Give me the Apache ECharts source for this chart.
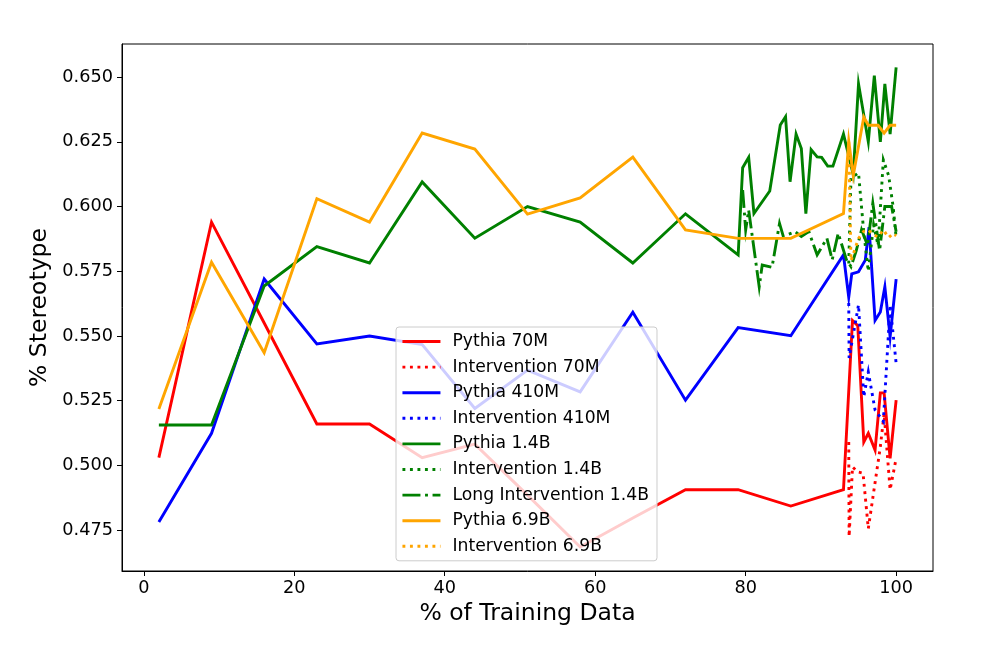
<!DOCTYPE html>
<html><head><meta charset="utf-8">
<script src="https://cdn.jsdelivr.net/npm/echarts@6/dist/echarts.min.js"></script>
<style>html,body{margin:0;padding:0;background:#fff}#c{width:984px;height:665px}</style>
</head><body><div id="c"></div>
<script>
const xTicks = [0, 20, 40, 60, 80, 100];
const yTicks = [0.475, 0.5, 0.525, 0.55, 0.575, 0.6, 0.625, 0.65];

const p70mX = [2,9,16,23,30,37,44,51,58,65,72,79,86,93,94.2,94.9,95.7,96.3,97.2,97.9,98.4,99.2,100];
const p70mY = [0.503,0.594,0.555,0.516,0.516,0.503,0.5082,0.4885,0.4685,0.4797,0.4906,0.4906,0.4843,0.4906,0.556,0.554,0.509,0.5124,0.5059,0.528,0.528,0.5027,0.5252];

const i70mX = [93.7,93.75,94.2,94.9,95.6,96.3,97.9,98.4,99.2,100];
const i70mY = [0.509,0.4725,0.4994,0.4975,0.497,0.4756,0.5072,0.520,0.4906,0.5027];

const p410mX = [2,9,16,23,30,37,44,51,58,65,72,79,86,93,93.7,94.1,95.0,95.9,96.4,97.2,97.9,98.5,99.2,100];
const p410mY = [0.4781,0.5124,0.572,0.5469,0.550,0.5467,0.522,0.5368,0.5284,0.5592,0.5252,0.5532,0.5501,0.5813,0.565,0.574,0.5748,0.5793,0.592,0.556,0.5593,0.569,0.5497,0.572];

const i410mX = [93.7,93.75,95.0,95.7,96.3,97.2,98.3,99.2,100];
const i410mY = [0.5627,0.5415,0.562,0.5265,0.5361,0.5214,0.517,0.562,0.5394];

const p14bX = [2,9,16,23,30,37,44,51,58,65,72,79,79.6,80.4,81.1,83.2,84.6,85.3,85.9,86.7,87.4,88.0,88.7,89.5,90.1,90.9,91.6,93.0,94.3,95.0,96.3,97.1,97.9,98.5,99.2,100];
const p14bY = [0.5156,0.5156,0.5693,0.5845,0.5782,0.6095,0.5878,0.600,0.594,0.5782,0.5972,0.5813,0.615,0.619,0.5973,0.606,0.6315,0.6347,0.6096,0.628,0.6224,0.5973,0.622,0.6192,0.619,0.6156,0.6156,0.628,0.6123,0.6474,0.625,0.6506,0.625,0.6474,0.628,0.6538];

const i14bX = [93.7,94.0,95.0,95.7,96.3,97.0,97.6,98.3,99.0,99.6,100];
const i14bY = [0.578,0.611,0.613,0.590,0.575,0.593,0.585,0.618,0.612,0.600,0.588];

const l14bX = [79.6,80.0,80.4,81.8,82.2,83.5,84.5,85.0,86.6,87.4,88.4,89.5,90.8,91.5,92.3,93.4,94.0,94.7,95.4,96.2,96.9,97.8,98.5,99.4,100];
const l14bY = [0.6064,0.591,0.5986,0.569,0.5774,0.5765,0.5935,0.5885,0.5903,0.5884,0.5903,0.5813,0.5877,0.5794,0.5897,0.5794,0.5768,0.583,0.591,0.585,0.6013,0.583,0.600,0.600,0.5903];

const p69bX = [2,9,16,23,30,37,44,51,58,65,72,79,86,93,93.7,94.3,95.7,96.3,97.6,98.4,99.2,100];
const p69bY = [0.5218,0.5785,0.5435,0.6030,0.594,0.6284,0.6222,0.5971,0.6033,0.6191,0.591,0.5877,0.5877,0.5973,0.6253,0.612,0.6346,0.6314,0.6314,0.6284,0.6314,0.6314];

const i69bX = [93.7,94.0,95.0,95.7,96.3,97.0,97.6,98.3,99.0,99.6,100];
const i69bY = [0.625,0.579,0.5877,0.5905,0.591,0.589,0.5883,0.591,0.588,0.5896,0.5887];

const FONT = 'DejaVu Sans';
const LW = 2.9;
const DOT = [2.9, 4.6];
const DASHDOT = [18, 4.6, 2.9, 4.6];

function zip(xs, ys) { return xs.map((x, i) => [x, ys[i]]); }
function mk(name, xs, ys, color, type) {
  return {
    name, type: 'line', data: zip(xs, ys), symbol: 'none', clip: true,
    lineStyle: { color, width: LW, type, cap: 'butt', join: 'miter' },
    itemStyle: { color },
    emphasis: { disabled: true }
  };
}

const series = [
  mk('Pythia 70M', p70mX, p70mY, '#ff0000', 'solid'),
  mk('Intervention 70M', i70mX, i70mY, '#ff0000', DOT),
  mk('Pythia 410M', p410mX, p410mY, '#0000ff', 'solid'),
  mk('Intervention 410M', i410mX, i410mY, '#0000ff', DOT),
  mk('Pythia 1.4B', p14bX, p14bY, '#008000', 'solid'),
  mk('Intervention 1.4B', i14bX, i14bY, '#008000', DOT),
  mk('Long Intervention 1.4B', l14bX, l14bY, '#008000', DASHDOT),
  mk('Pythia 6.9B', p69bX, p69bY, '#ffa500', 'solid'),
  mk('Intervention 6.9B', i69bX, i69bY, '#ffa500', DOT)
];

const chart = echarts.init(document.getElementById('c'), null, { renderer: 'canvas' });
chart.setOption({
  animation: false,
  backgroundColor: '#ffffff',
  textStyle: { fontFamily: FONT },
  grid: { left: 122, right: 51, top: 44, bottom: 94, show: true, borderColor: '#000', borderWidth: 1, backgroundColor: 'transparent' },
  xAxis: {
    type: 'value', min: -2.9, max: 104.9,
    axisLine: { show: true, onZero: false, lineStyle: { color: '#000', width: 1 } },
    axisTick: { show: true, customValues: xTicks, length: 5, lineStyle: { color: '#000', width: 1 } },
    axisLabel: { customValues: xTicks, fontSize: 17.7, color: '#000', margin: 8, fontFamily: FONT },
    splitLine: { show: false },
    name: '% of Training Data', nameLocation: 'middle', nameGap: 26,
    nameTextStyle: { fontSize: 23.5, color: '#000', fontFamily: FONT }
  },
  yAxis: {
    type: 'value', min: 0.4592, max: 0.6628,
    axisLine: { show: true, onZero: false, lineStyle: { color: '#000', width: 1 } },
    axisTick: { show: true, customValues: yTicks, length: 5, lineStyle: { color: '#000', width: 1 } },
    axisLabel: { customValues: yTicks, fontSize: 17.7, color: '#000', margin: 9, fontFamily: FONT, formatter: v => v.toFixed(3) },
    splitLine: { show: false },
    name: '% Stereotype', nameLocation: 'middle', nameGap: 67,
    nameTextStyle: { fontSize: 23.5, color: '#000', fontFamily: FONT }
  },
  legend: {
    orient: 'vertical', left: 396, top: 327,
    itemWidth: 38, itemHeight: 17, itemGap: 8.6,
    padding: [6, 8, 6, 5],
    backgroundColor: 'rgba(255,255,255,0.8)', borderColor: '#cccccc', borderWidth: 1, borderRadius: 3,
    lineStyle: { width: LW },
    itemStyle: { color: 'rgba(0,0,0,0)', borderColor: 'rgba(0,0,0,0)', borderWidth: 0 },
    textStyle: { fontSize: 17.2, fontFamily: FONT, color: '#000', lineHeight: 17, padding: [0, 0, 0, 7] },
    selectedMode: false,
    data: series.map(s => s.name)
  },
  series
});
</script>
</body></html>
